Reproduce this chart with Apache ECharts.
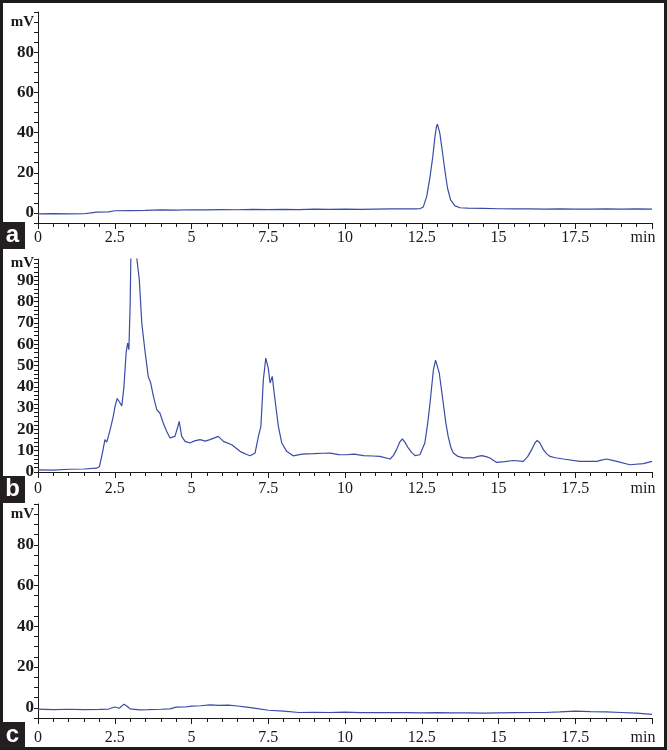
<!DOCTYPE html>
<html>
<head>
    <meta charset="utf-8">
    <script src="https://cdn.jsdelivr.net/npm/echarts/dist/echarts.min.js"></script>
    <style>
        body { margin: 0; background: #fff; }
    </style>
</head>
<body>
<div id="chart" style="width: 667px;height:750px;"></div>
<script>
  // 色谱图 a：保留时间(min) / 信号(mV)
  var aTime = [0, 0.5, 1.0, 1.5, 1.8, 1.9, 2.3, 2.5, 3, 3.5, 4, 4.5, 5, 5.5, 6, 6.5, 7, 7.5, 8, 8.5, 9, 9.5, 10, 10.5, 11, 11.5, 12, 12.3, 12.45, 12.55,
    12.66, 12.77, 12.86, 12.93, 12.98, 13.01, 13.05, 13.09, 13.18, 13.26, 13.34, 13.44, 13.58, 13.75, 14, 14.5, 15, 15.5, 16, 16.5, 17, 17.5,
    18, 18.5, 19, 19.5, 20];
  var aVal = [-0.5, -0.3, -0.5, -0.4, 0.2, 0.4, 0.5, 1.1, 1.2, 1.3, 1.5, 1.4, 1.6, 1.5, 1.7, 1.6, 1.8, 1.7, 1.8, 1.7, 1.9, 1.8, 1.9, 1.8, 1.9, 2.0, 2.1, 2.0, 2.2, 3.0,
    8.1, 18, 28, 38, 43, 44.2, 42, 39.6, 29.6, 20.5, 12.3, 6.5, 3.5, 2.6, 2.4, 2.3, 2.1, 2.0, 2.0, 1.9, 2.0, 1.9,
    1.9, 2.0, 1.9, 2.0, 1.9];

  // 色谱图 b
  var bTime = [0, 0.5, 1.0, 1.5, 1.9, 2.0, 2.1, 2.18, 2.24, 2.35, 2.45, 2.51, 2.58, 2.65, 2.73, 2.8, 2.87, 2.92, 2.96, 3.0, 3.03, 3.1, 3.2, 3.22,
    3.3, 3.38, 3.48, 3.59, 3.67, 3.76, 3.87, 3.97, 4.08, 4.19, 4.3, 4.46, 4.55, 4.6, 4.68, 4.79, 4.95, 5.1, 5.28, 5.45, 5.6, 5.75, 5.87,
    6.04, 6.31, 6.58, 6.8, 6.91, 7.07, 7.18, 7.26, 7.34, 7.42, 7.5, 7.56, 7.63, 7.72, 7.83, 7.94, 8.1, 8.31, 8.6, 8.97, 9.3, 9.51, 9.8,
    10.05, 10.3, 10.6, 10.9, 11.14, 11.47, 11.58, 11.68, 11.78, 11.87, 11.96, 12.06, 12.17, 12.28, 12.44, 12.6, 12.69, 12.77, 12.88, 12.95, 12.99,
    13.07, 13.13, 13.2, 13.28, 13.36, 13.45, 13.53, 13.68,
    13.86, 14.18, 14.3, 14.45, 14.6, 14.72, 14.94, 15.2, 15.48, 15.81, 15.95, 16.08, 16.18, 16.26, 16.35, 16.46, 16.57, 16.68, 16.85,
    17.11, 17.65, 18.2, 18.35, 18.52, 18.68, 18.85, 19.28, 19.72, 20];
  var bVal = [1.0, 0.9, 1.3, 1.4, 1.8, 2.5, 9, 15.2, 14, 19.9, 26, 30.8, 34.5, 33, 31, 40.2, 55.9, 60.5, 57.4, 77.7, 105, 125, 105, 100,
    90.3, 70, 57.4, 44.9, 41.8, 35.5, 29.2, 27.7, 23, 19.1, 16, 16.7, 21, 23.8, 16.7, 14.4, 13.6, 14.6, 15.2, 14.5, 15.2, 16.0, 16.7,
    14.4, 12.8, 9.7, 8.2, 7.6, 8.9, 16.7, 21.4, 43.3, 53.5, 48.8, 41.8, 44.9, 33.9, 21.4, 13.6, 9.7, 7.6, 8.4, 8.6, 8.8, 8.9, 8.2,
    8.1, 8.4, 7.7, 7.5, 7.3, 6.1, 7.8, 10.5, 14.0, 15.5, 13.8, 11.3, 9.2, 7.7, 8.1, 13.6, 22.5, 32.4, 48, 52.5, 52.7,
    46.5, 40.0, 32.4, 23.5, 16.7, 11.5, 8.9, 7.3,
    6.6, 6.6, 7.2, 7.7, 7.2, 6.6, 4.5, 4.9, 5.4, 5.0, 7.2, 10.5, 13.5, 14.8, 13.6, 10.5, 8.5, 7.3, 6.7,
    6.1, 5.0, 5.0, 5.6, 6.1, 5.6, 5.0, 3.4, 3.9, 5.0];

  // 色谱图 c
  var cTime = [0, 0.5, 1, 1.5, 2, 2.3, 2.5, 2.65, 2.8, 2.88, 3.0, 3.3, 3.6, 4.0, 4.3, 4.5, 4.8, 5.0, 5.3, 5.6, 5.9, 6.2, 6.5, 6.8, 7.1, 7.5,
    8.0, 8.5, 9, 9.5, 10, 10.5, 11, 11.5, 12, 12.5, 13, 13.5, 14, 14.5, 15, 15.5, 16, 16.5, 17, 17.5, 18, 18.5, 19, 19.5, 20];
  var cVal = [-0.6, -0.9, -0.7, -0.9, -0.8, -0.6, 0.4, -0.2, 1.8, 1.0, -0.5, -1.0, -0.9, -0.7, -0.5, 0.3, 0.4, 0.8, 1.0, 1.4, 1.2, 1.3, 0.9, 0.3, -0.3, -1.2,
    -1.6, -2.3, -2.2, -2.3, -2.1, -2.4, -2.4, -2.3, -2.4, -2.5, -2.4, -2.5, -2.5, -2.6, -2.5, -2.4, -2.3, -2.3, -2.0, -1.6, -1.9, -2.0, -2.3, -2.6, -3.2];

  var panelLabels = ['a', 'b', 'c'];

  function pairs(t, v) {
    return t.map(function (x, i) { return [x, v[i]]; });
  }

  var lineColor = '#3a4ca6';
  var axisColor = '#1a1a1a';
  var serif = '"Liberation Serif", "DejaVu Serif", serif';

  // 三个面板的位置
  var grids = [
    {left: 38, top: 12, width: 614, height: 211},
    {left: 38, top: 259, width: 614, height: 213},
    {left: 38, top: 504, width: 614, height: 214}
  ];
  var xLabelMargin = [7, 9, 12];

  function makeX(i) {
    return {
      type: 'value', gridIndex: i, min: 0, max: 20, interval: 2.5,
      axisLine: {onZero: false, lineStyle: {color: axisColor, width: 1}},
      axisTick: {show: true, length: 6, lineStyle: {color: axisColor}},
      minorTick: {show: true, splitNumber: 5, length: 4, lineStyle: {color: axisColor}},
      splitLine: {show: false},
      axisLabel: {
        margin: xLabelMargin[i], color: axisColor, fontFamily: serif, fontSize: 16,
        showMinLabel: true, showMaxLabel: true,
        formatter: function (v) {
          if (v === 20) return '{m|min}';
          return String(v);
        },
        rich: {m: {fontFamily: serif, fontSize: 16, color: axisColor, padding: [0, 18, 0, 0]}}
      }
    };
  }

  function makeY(i, min, max, step, labels, unitAt) {
    return {
      type: 'value', gridIndex: i, min: min, max: max, interval: step,
      axisLine: {show: true, onZero: false, lineStyle: {color: axisColor, width: 1}},
      axisTick: {show: true, length: 4, lineStyle: {color: axisColor}},
      splitLine: {show: false},
      axisLabel: {
        margin: 4, color: axisColor, fontFamily: serif, fontSize: 17, fontWeight: 'bold',
        showMinLabel: true, showMaxLabel: true,
        formatter: function (v) {
          if (v === unitAt) return '{u|mV}';
          if (labels.indexOf(v) >= 0) return String(v);
          return '';
        },
        rich: {u: {fontFamily: serif, fontSize: 15, fontWeight: 'bold', color: axisColor}}
      }
    };
  }

  function makeSeries(i, t, v) {
    return {
      type: 'line', xAxisIndex: i, yAxisIndex: i, data: pairs(t, v),
      showSymbol: false, clip: true, animation: false,
      lineStyle: {color: lineColor, width: 1.2}
    };
  }

  // 面板左下角的字母标签
  var labelBoxes = [[0, 222], [0, 476], [0, 722]];
  var graphics = [{
    type: 'rect', shape: {x: 1.5, y: 1.5, width: 664, height: 747},
    style: {fill: 'none', stroke: '#1c1c1c', lineWidth: 3}, z: 10
  }];
  labelBoxes.forEach(function (p, i) {
    graphics.push({
      type: 'rect', shape: {x: p[0], y: p[1], width: 25, height: 27},
      style: {fill: '#231f20'}, z: 11
    });
    graphics.push({
      type: 'text', x: p[0] + 12.5, y: p[1] + 13.5, z: 12,
      style: {text: panelLabels[i], fill: '#fff', font: 'bold 24px "Liberation Sans", Arial, sans-serif',
        align: 'center', verticalAlign: 'middle'}
    });
  });

  var myChart = echarts.init(document.getElementById('chart'));
  var option = {
    backgroundColor: '#fff',
    animation: false,
    grid: grids,
    xAxis: [makeX(0), makeX(1), makeX(2)],
    yAxis: [
      makeY(0, -5, 100, 5, [0, 20, 40, 60, 80], 95),
      makeY(1, 0, 100, 2, [0, 10, 20, 30, 40, 50, 60, 70, 80, 90], 98),
      makeY(2, -5, 100, 5, [0, 20, 40, 60, 80], 95)
    ],
    series: [makeSeries(0, aTime, aVal), makeSeries(1, bTime, bVal), makeSeries(2, cTime, cVal)],
    graphic: graphics
  };
  myChart.setOption(option);
</script>
</body>
</html>
